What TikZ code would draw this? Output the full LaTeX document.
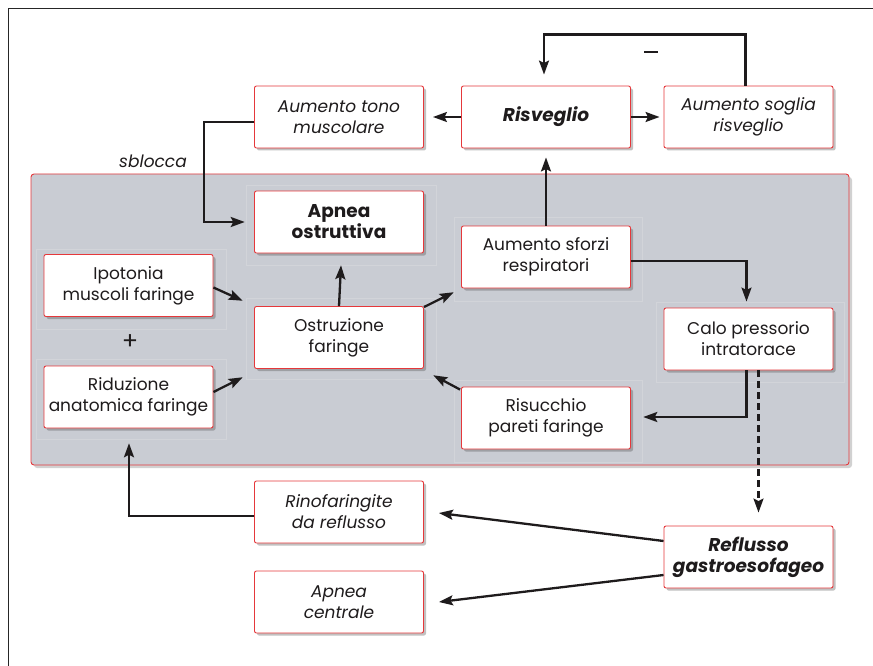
\documentclass[tikz,border=0pt]{standalone}
\usepackage{fontspec}
\setmainfont{Poppins}
\usetikzlibrary{arrows.meta,calc,shadows}
\definecolor{boxred}{HTML}{E5383B}
\definecolor{panelgrey}{HTML}{C9CCD3}
\definecolor{bgline}{HTML}{D2D4D9}
\definecolor{ink}{HTML}{1E1B1C}
\tikzset{
  box/.style={draw=boxred, fill=white, rounded corners=2pt, line width=0.9pt,
    minimum width=169pt, minimum height=62pt, align=center, inner sep=0pt,
    font=\fontsize{17}{21}\selectfont, text=ink,
    drop shadow={shadow xshift=2.5pt, shadow yshift=-2.5pt, opacity=0.35, fill=black!70}},
  bgrect/.style={draw=bgline, line width=0.5pt, inner sep=0pt},
  arr/.style={draw=ink, line width=2.3pt, -{Stealth[length=14pt,width=10pt,inset=2.5pt]}},
  dasharr/.style={arr, dash pattern=on 7pt off 4pt},
  lbl/.style={font=\fontsize{17}{21}\selectfont\itshape, text=ink}
}
\begin{document}
\begin{tikzpicture}[x=1pt,y=-1pt]
\useasboundingbox (0,0) rectangle (873,666);
% frame
\draw[line width=1.4pt, black!85] (8.5,666) -- (8.5,8.5) -- (873,8.5);
% panel
\fill[black!60, opacity=0.3, rounded corners=3pt] (34,177) rectangle (852,468);
\draw[draw=boxred, fill=panelgrey, line width=0.9pt, rounded corners=3pt] (31,174) rectangle (849,465);
% background rectangles
\node[bgrect, minimum width=190pt, minimum height=80pt] (bgapnea) at (341,225) {};
\node[bgrect, minimum width=188pt, minimum height=84pt] (bgsforzi) at (548,259) {};
\node[bgrect, minimum width=190pt, minimum height=81pt] (bgostr) at (341,338.5) {};
\node[bgrect, minimum width=188pt, minimum height=82pt] (bgrisu) at (548,421) {};
\node[bgrect, minimum width=190pt, minimum height=80pt] (bgipot) at (131,289) {};
\node[bgrect, minimum width=190pt, minimum height=80pt] (bgridu) at (131,399) {};
\node[bgrect, minimum width=188pt, minimum height=80pt] (bgcalo) at (750,342) {};
% boxes
\node[box, font=\fontsize{17}{21}\selectfont\itshape] (tono) at (339,117) {Aumento tono\\muscolare};
\node[box, font=\fontsize{18.5}{21}\selectfont\bfseries\itshape] (risv) at (546,117) {Risveglio};
\node[box, font=\fontsize{17}{21}\selectfont\itshape] (soglia) at (748.5,117) {Aumento soglia\\risveglio};
\node[box, font=\fontsize{18.5}{21}\selectfont\bfseries] (apnea) at (339,222) {Apnea\\ostruttiva};
\node[box] (sforzi) at (546,257) {Aumento sforzi\\respiratori};
\node[box] (ostr) at (339,337.5) {Ostruzione\\faringe};
\node[box] (risu) at (546,418) {Risucchio\\pareti faringe};
\node[box] (ipot) at (128.5,285.5) {Ipotonia\\muscoli faringe};
\node[box] (ridu) at (128.5,397) {Riduzione\\anatomica faringe};
\node[box] (calo) at (748.5,339) {Calo pressorio\\intratorace};
\node[box, font=\fontsize{18.5}{21}\selectfont\bfseries\itshape] (refl) at (748.5,557) {Reflusso\\gastroesofageo};
\node[box, font=\fontsize{17}{21}\selectfont\itshape] (rino) at (339,512) {Rinofaringite\\da reflusso};
\node[box, font=\fontsize{17}{21}\selectfont\itshape] (centr) at (339,602) {Apnea\\centrale};
% labels
\node[lbl] (sblocca) at (153,161) {sblocca};
\node[font=\fontsize{24}{24}\selectfont, text=ink] (plus) at (130,342) {+};
\node[inner sep=0pt] (minus) at (651,52) {\color{ink}\rule{14pt}{1.8pt}};
% connectors
\draw[arr] (risv.west) -- ($(tono.east)+(9,0)$);
\draw[arr] (risv.east) -- ($(soglia.west)+(-4,0)$);
\draw[arr] ($(soglia.north)+(-3,0)$) |- ($(risv.north)+(-2,-51)$) -- ($(risv.north)+(-2,-11)$);
\draw[arr] (sforzi.north) -- ($(risv.south)+(0,9)$);
\draw[arr] ($(tono.west)+(0,5)$) -- ++(-50,0) |- ($(bgapnea.west)+(-1,-3)$);
\draw[arr] ($(ipot.east)+(0,2)$) -- ($(bgostr.north west)+(-3,3)$);
\draw[arr] ($(ridu.east)+(0,-5)$) -- ($(bgostr.south west)+(-3,-2)$);
\draw[arr] (ostr.north) -- (bgapnea.south);
\draw[arr] ($(ostr.north east)+(0,1)$) -- ($(bgsforzi.south west)+(0,-9)$);
\draw[arr] ($(risu.north west)+(-1,3)$) -- ($(bgostr.south east)+(-3,-4)$);
\draw[arr] ($(sforzi.east)+(0,4)$) -| ($(calo.north)+(-2,-6)$);
\draw[arr] ($(calo.south)+(-2,0)$) |- ($(bgrisu.east)+(1,-4)$);
\draw[dasharr] ($(calo.south)+(10,0)$) -- ($(refl.north)+(10,-13)$);
\draw[arr] ($(refl.west)+(0,-16)$) -- ($(rino.east)+(15,1)$);
\draw[arr] ($(refl.west)+(0,18)$) -- ($(centr.east)+(15,0)$);
\draw[arr] ($(rino.west)+(0,4)$) -| ($(bgridu.south)+(-2,4)$);
\end{tikzpicture}
\end{document}
